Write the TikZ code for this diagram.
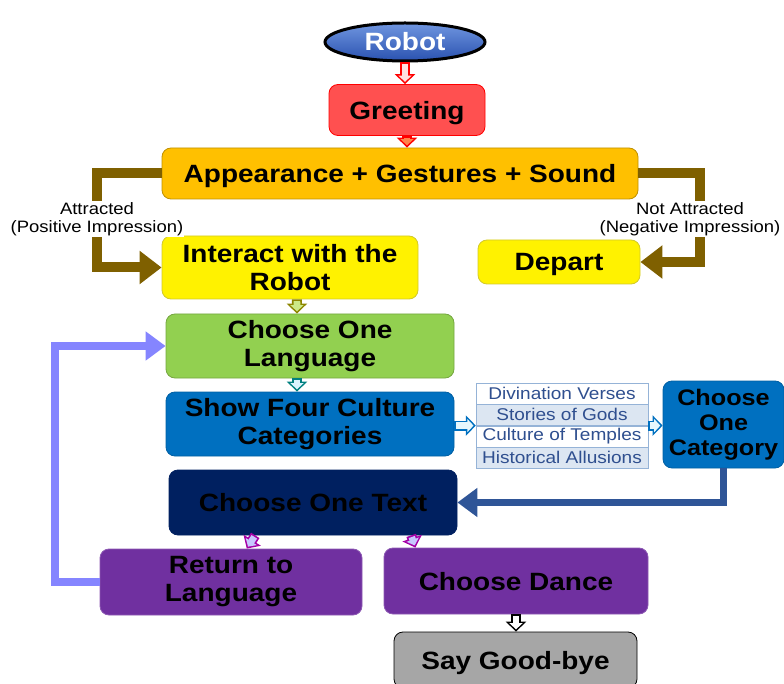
\documentclass[tikz,border=0pt]{standalone}
\usepackage{fontspec}
\setmainfont{Liberation Sans}[FakeStretch=1.12]
\usepackage{xcolor}
\usepackage{tikz}
\usetikzlibrary{positioning}
\usetikzlibrary{arrows.meta}
\usetikzlibrary{shapes.geometric, calc}

\definecolor{greetred}{HTML}{FF5050}
\definecolor{apporange}{HTML}{FFC000}
\definecolor{langgreen}{HTML}{92D050}
\definecolor{showblue}{HTML}{0070C0}
\definecolor{textnavy}{HTML}{002060}
\definecolor{endpurple}{HTML}{7030A0}
\definecolor{byegrey}{HTML}{A6A6A6}
\definecolor{pathbrown}{HTML}{7F6000}
\definecolor{backblue}{HTML}{2F5597}
\definecolor{loopviolet}{HTML}{8585FF}
\definecolor{rowblue}{HTML}{DCE6F2}
\definecolor{rowline}{HTML}{95B3D7}
\definecolor{rowtext}{HTML}{2F4F8F}
\definecolor{robottop}{HTML}{7096E0}
\definecolor{robotbottom}{HTML}{2A52B0}

\begin{document}
\begin{tikzpicture}[x=1pt, y=-1pt,
		stepbox/.style={draw, rectangle, rounded corners=9pt, inner sep=0pt, align=center, line width=0.8pt, font=\bfseries\fontsize{25}{28}\selectfont},
		oneline/.style={text depth=0pt},
		rowbox/.style={draw=rowline, rectangle, inner sep=0pt, minimum width=172pt, minimum height=21pt, text=rowtext, font=\fontsize{17}{18}\selectfont},
		branch/.style={line width=10pt, -{Triangle[length=22pt, width=32pt]}},
		looparrow/.style={line width=8pt, -{Triangle[length=20pt, width=28pt]}},
		link/.style 2 args={line width=10pt, draw=#1, -{Triangle[length=10pt, width=20pt]},
			postaction={draw=#2, line width=6.6pt, shorten <=1.7pt, shorten >=2.3pt, -{Triangle[length=6.1pt, width=12.8pt]}}},
		impression/.style={fill=white, inner sep=1pt, align=center, font=\fontsize{16.5}{18}\selectfont}]
	\useasboundingbox (0,0) rectangle (784,684);

	% boxes
	\node[ellipse, draw=black, line width=3pt, top color=robottop, bottom color=robotbottom, minimum width=160pt, minimum height=38pt, inner sep=0pt, text=white, font=\bfseries\fontsize{25}{28}\selectfont] (robot) at (405,42) {Robot};
	\node[stepbox, oneline, draw=red, fill=greetred, minimum width=156pt, minimum height=51pt] (greet) at (407,110) {Greeting};
	\node[stepbox, oneline, draw=apporange!75!black, fill=apporange, minimum width=476pt, minimum height=51pt] (app) at (400,173.5) {Appearance + Gestures + Sound};
	\node[stepbox, draw=yellow!80!black, fill=yellow, minimum width=256pt, minimum height=63pt] (inter) at (290,267.5) {Interact with the\\Robot};
	\node[stepbox, oneline, draw=yellow!80!black, fill=yellow, minimum width=162pt, minimum height=44pt] (dep) at (559,262) {Depart};
	\node[stepbox, draw=langgreen!80!black, fill=langgreen, minimum width=288pt, minimum height=64pt] (lang) at (310,346) {Choose One\\Language};
	\node[stepbox, draw=showblue!85!black, fill=showblue, minimum width=288pt, minimum height=64pt] (show) at (310,424) {Show Four Culture\\Categories};

	% culture categories
	\node[rowbox, fill=white] (div) at (562,393.5) {Divination Verses};
	\node[rowbox, fill=rowblue, below=0pt of div] (gods) {Stories of Gods};
	\node[rowbox, fill=white, below=0pt of gods] (temp) {Culture of Temples};
	\node[rowbox, fill=rowblue, below=0pt of temp] (hist) {Historical Allusions};

	\node[stepbox, draw=showblue!85!black, fill=showblue, minimum width=121pt, minimum height=87pt, font=\bfseries\fontsize{22.5}{25}\selectfont] (cat) at (723.5,424.5) {Choose\\One\\Category};
	\node[stepbox, oneline, draw=textnavy, fill=textnavy, minimum width=288pt, minimum height=65pt] (txt) at (313,502.5) {Choose One Text};
	\node[stepbox, draw=endpurple!80!white, fill=endpurple, minimum width=262pt, minimum height=66pt] (ret) at (231,582) {Return to\\Language};
	\node[stepbox, oneline, draw=endpurple!80!white, fill=endpurple, minimum width=264pt, minimum height=66pt] (dance) at (516,581) {Choose Dance};
	\node[stepbox, oneline, draw=black, fill=byegrey, minimum width=243pt, minimum height=56pt] (bye) at (515.5,660) {Say Good-bye};

	% small arrows
	\draw[link={red}{red!12}] (robot.south) -- (robot.south |- greet.north);
	\draw[link={red}{orange!60!red!70}] (greet.south) -- (greet.south |- app.north);
	\draw[link={olive}{yellow!60!green!50}] ($(inter.south west)!0.527!(inter.south east)$) -- ($(lang.north west)!0.455!(lang.north east)$);
	\draw[link={teal}{cyan!15}] ($(lang.south west)!0.455!(lang.south east)$) -- ($(show.north west)!0.455!(show.north east)$);
	\draw[link={showblue}{cyan!10}] (show.east |- gods.south west) -- (gods.south west);
	\draw[link={showblue}{cyan!10}] (gods.south east) -- (cat.west |- gods.south east);
	\draw[link={violet!70!magenta}{blue!22}] ($(txt.south west)!0.3!(txt.south east)$) -- ($(ret.north west)!0.56!(ret.north east)$);
	\draw[link={violet!70!magenta}{blue!22}] ($(txt.south west)!0.84!(txt.south east)$) -- ($(dance.north west)!0.12!(dance.north east)$);
	\draw[link={black}{white}] (dance.south) -- (dance.south |- bye.north);

	% big arrows
	\draw[branch, draw=pathbrown] (app.west) -- ++(-65,0) |- (inter.west);
	\draw[branch, draw=pathbrown] (app.east) -- ++(62,0) |- (dep.east);
	\draw[looparrow, draw=backblue, line width=7pt] (cat.south) |- (txt.east);
	\draw[looparrow, draw=loopviolet] (ret.west) -- ++(-45,0) |- (lang.west);

	\node[impression] (pos) at (97,219) {Attracted\\(Positive Impression)};
	\node[impression] (neg) at (690,219) {Not Attracted\\(Negative Impression)};
\end{tikzpicture}
\end{document}
